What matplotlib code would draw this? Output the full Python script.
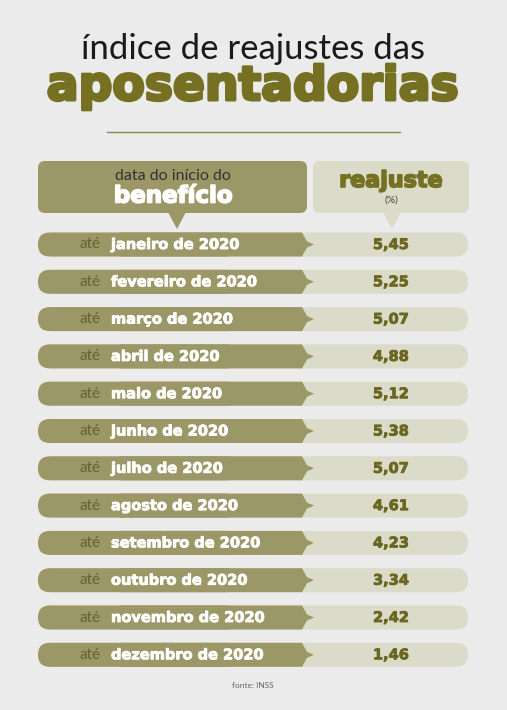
import matplotlib
matplotlib.use("Agg")
import matplotlib.pyplot as plt
import matplotlib.patheffects as pe
from matplotlib.patches import FancyBboxPatch, Polygon

# ---- data ----
months = ["janeiro de 2020", "fevereiro de 2020", "março de 2020", "abril de 2020",
          "maio de 2020", "junho de 2020", "julho de 2020", "agosto de 2020",
          "setembro de 2020", "outubro de 2020", "novembro de 2020", "dezembro de 2020"]
values = [5.45, 5.25, 5.07, 4.88, 5.12, 5.38, 5.07, 4.61, 4.23, 3.34, 2.42, 1.46]
prefix = "até"
title1 = "índice de reajustes das"
title2 = "aposentadorias"
head_left1 = "data do início do"
head_left2 = "benefício"
head_right1 = "reajuste"
head_right2 = "(%)"
source = "fonte: INSS"

# ---- style ----
BG = "#ebebeb"
DARK = "#9c9766"
LIGHT = "#dadbc9"
OLIVE = "#767022"
VALC = "#6c6720"
ATE = "#66622f"
LIGHTFONT = ["Lato", "DejaVu Sans"]
HEAVY = ["DejaVu Sans"]


def heavy(color, w):
    return [pe.withStroke(linewidth=w, foreground=color)]


W, H = 507, 710
fig = plt.figure(figsize=(W / 100, H / 100), dpi=100, facecolor=BG)
ax = fig.add_axes([0, 0, 1, 1])
ax.set_xlim(0, W)
ax.set_ylim(H, 0)
ax.axis("off")
ax.set_facecolor(BG)

# titles
ax.text(253, 59, title1, ha="center", va="baseline", fontsize=25, color="#1a1a1a",
        family=LIGHTFONT, fontweight="normal")
ax.text(253, 100, title2, ha="center", va="baseline", fontsize=34, color=OLIVE,
        family=HEAVY, fontweight="bold", path_effects=heavy(OLIVE, 2.2))
ax.plot([107, 400], [132, 132], color="#8d8850", lw=1)

# header boxes
ax.add_patch(FancyBboxPatch((38, 161), 269, 52, boxstyle="round,pad=0,rounding_size=7",
                            fc=DARK, ec="none"))
ax.add_patch(FancyBboxPatch((313, 161), 156, 52, boxstyle="round,pad=0,rounding_size=7",
                            fc=LIGHT, ec="none"))
ax.add_patch(Polygon([[168, 212], [186, 212], [177, 229]], closed=True, fc=DARK, ec="none"))
ax.add_patch(Polygon([[383, 212], [401, 212], [392, 229]], closed=True, fc=LIGHT, ec="none"))
ax.text(173, 176, head_left1, ha="center", va="center", fontsize=11.5, color="#333333",
        family=LIGHTFONT, fontweight="normal")
ax.text(173, 196, head_left2, ha="center", va="center", fontsize=16.5, color="white",
        family=HEAVY, fontweight="bold", path_effects=heavy("white", 1.2))
ax.text(391, 181, head_right1, ha="center", va="center", fontsize=16, color=OLIVE,
        family=HEAVY, fontweight="bold", path_effects=heavy(OLIVE, 1.2))
ax.text(391, 200, head_right2, ha="center", va="center", fontsize=7.5, color="#444444",
        family=LIGHTFONT)

# rows
y0, dy, rh = 244.5, 37.3, 24
for i, (m, v) in enumerate(zip(months, values)):
    yc = y0 + i * dy
    top = yc - rh / 2
    ax.add_patch(FancyBboxPatch((38, top), 430, rh,
                                boxstyle=f"round,pad=0,rounding_size={rh/2}",
                                fc=LIGHT, ec="none"))
    ax.add_patch(FancyBboxPatch((38, top), 200, rh,
                                boxstyle=f"round,pad=0,rounding_size={rh/2}",
                                fc=DARK, ec="none"))
    ax.add_patch(Polygon([[120, top], [302, top], [307, yc - 3], [314, yc],
                          [307, yc + 3], [302, top + rh], [120, top + rh]],
                         closed=True, fc=DARK, ec="none"))
    ax.text(80, yc, prefix, ha="left", va="center", fontsize=11, color=ATE,
            family=LIGHTFONT, fontweight="normal")
    ax.text(111, yc, m, ha="left", va="center", fontsize=10.5, color="white",
            family=HEAVY, fontweight="bold", path_effects=heavy("white", 0.6))
    ax.text(391, yc, f"{v:.2f}".replace(".", ","), ha="center", va="center",
            fontsize=10.5, color=VALC, family=HEAVY, fontweight="bold",
            path_effects=heavy(VALC, 0.6))

ax.text(253, 685, source, ha="center", va="center", fontsize=6, color="#666666",
        family=LIGHTFONT)

fig.savefig("out.png", dpi=100, facecolor=BG)
